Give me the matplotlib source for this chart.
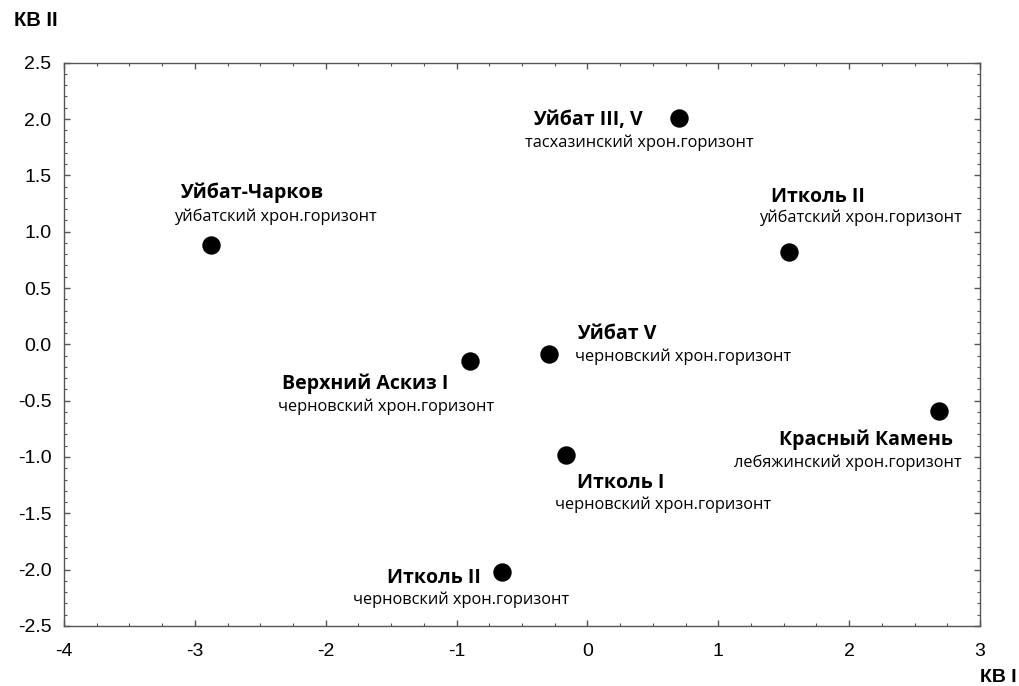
import matplotlib
matplotlib.use('Agg')
import matplotlib.pyplot as plt
from matplotlib.ticker import MultipleLocator, FormatStrFormatter

plt.rcParams['axes.unicode_minus'] = False

# =============================================
# ДАННЫЕ
# =============================================
sites = ['Уйбат-Чарков', 'Уйбат III, V', 'Итколь II', 'Верхний Аскиз I',
         'Уйбат V', 'Красный Камень', 'Итколь I', 'Итколь II']
horizons = ['уйбатский хрон.горизонт', 'тасхазинский хрон.горизонт',
            'уйбатский хрон.горизонт', 'черновский хрон.горизонт',
            'черновский хрон.горизонт', 'лебяжинский хрон.горизонт',
            'черновский хрон.горизонт', 'черновский хрон.горизонт']
kv1 = [-2.88, 0.70, 1.54, -0.90, -0.29, 2.69, -0.16, -0.65]
kv2 = [0.88, 2.01, 0.82, -0.15, -0.09, -0.59, -0.98, -2.02]

# смещения подписей (пиксели): (dx, dy) названия и горизонта
title_off = [(41, 52), (-91, -2), (29, 55), (-104, -23),
             (67, 20), (-74, -29), (54, -28), (-68, -6)]
sub_off = [(65, 28), (-40, -25), (71, 34), (-84, -46),
           (134, -2), (-92, -52), (97, -50), (-41, -28)]

# =============================================
# ГРАФИК
# =============================================
fig = plt.figure(figsize=(10.2, 6.86), dpi=100)
ax = fig.add_axes([0.0627, 0.0875, 0.8981, 0.8211])

ax.scatter(kv1, kv2, s=150, color='black', zorder=3)

for i in range(len(sites)):
    ax.annotate(sites[i], (kv1[i], kv2[i]), xytext=title_off[i],
                textcoords='offset pixels', ha='center', va='center',
                fontsize=14, fontweight='bold', family='Open Sans')
    ax.annotate(horizons[i], (kv1[i], kv2[i]), xytext=sub_off[i],
                textcoords='offset pixels', ha='center', va='center',
                fontsize=11.8, family='Open Sans')

ax.set_xlim(-4, 3)
ax.set_ylim(-2.5, 2.5)
ax.xaxis.set_major_locator(MultipleLocator(1))
ax.xaxis.set_minor_locator(MultipleLocator(0.25))
ax.yaxis.set_major_locator(MultipleLocator(0.5))
ax.yaxis.set_minor_locator(MultipleLocator(0.1))
ax.yaxis.set_major_formatter(FormatStrFormatter('%.1f'))

ax.tick_params(which='both', direction='in', top=True, right=True,
               color='#555555', labelsize=14)
ax.tick_params(which='major', length=4, width=1)
ax.tick_params(which='minor', length=2.5, width=0.8)
ax.tick_params(axis='x', which='major', pad=12)
ax.tick_params(axis='y', which='major', pad=9)
for lab in ax.get_xticklabels() + ax.get_yticklabels():
    lab.set_family('Liberation Sans')

for sp in ax.spines.values():
    sp.set_color('#555555')
    sp.set_linewidth(1.0)

fig.text(14 / 1020, 1 - 21 / 686, 'КВ II', ha='left', va='center',
         fontsize=14.5, fontweight='bold', family='Liberation Sans')
fig.text(1017 / 1020, 1 - 677 / 686, 'КВ I', ha='right', va='center',
         fontsize=14, fontweight='bold', family='Liberation Sans')

fig.savefig('out.png', dpi=100)
